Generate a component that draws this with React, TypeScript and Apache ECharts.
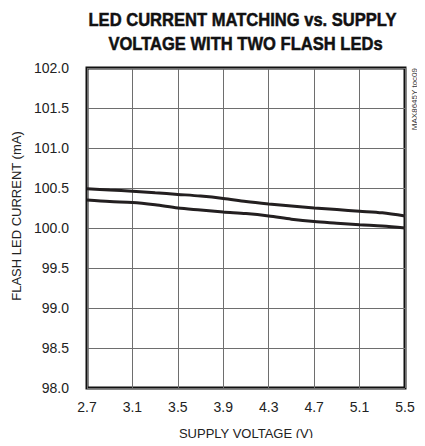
import React, { useEffect, useRef } from "react";
import * as echarts from "echarts";

const voltages = [2.7, 2.9, 3.1, 3.3, 3.5, 3.7, 3.9, 4.1, 4.3, 4.5, 4.7, 4.9, 5.1, 5.3, 5.5];
const led1 = [100.49, 100.475, 100.46, 100.44, 100.42, 100.4, 100.37, 100.33, 100.3, 100.275, 100.25, 100.23, 100.21, 100.19, 100.15];
const led2 = [100.35, 100.33, 100.32, 100.29, 100.25, 100.225, 100.2, 100.18, 100.15, 100.11, 100.08, 100.06, 100.04, 100.025, 100.0];
const xStart = 2.7;
const xEnd = 5.5;
const xStep = 0.4;
const yMin = 98;
const yMax = 102;
const yStep = 0.5;
const titleLines = ["LED CURRENT MATCHING vs. SUPPLY", "VOLTAGE WITH TWO FLASH LEDs"];
const xName = "SUPPLY VOLTAGE (V)";
const yName = "FLASH LED CURRENT (mA)";
const watermark = "MAX8645Y toc09";

const FONT = "'Liberation Sans', Arial, sans-serif";

export default function App() {
  const ref = useRef<HTMLDivElement>(null);
  useEffect(() => {
    if (!ref.current) return;
    const chart = echarts.init(ref.current, undefined, { renderer: "svg" });
    const toXY = (vals: number[]) => voltages.map((v, i) => [+(v - xStart).toFixed(4), vals[i]]);
    const titleStyle = {
      fontFamily: FONT,
      fontWeight: "bold",
      fontSize: 18,
      fill: "#111",
      stroke: "#111",
      lineWidth: 0.5,
      textAlign: "center",
      textVerticalAlign: "middle",
    };
    chart.setOption({
      animation: false,
      backgroundColor: "#ffffff",
      grid: {
        left: 87,
        right: 20,
        top: 68,
        bottom: 58,
        show: true,
        borderColor: "#111",
        borderWidth: 3,
        backgroundColor: "transparent",
      },
      xAxis: {
        type: "value",
        min: 0,
        max: +(xEnd - xStart).toFixed(4),
        interval: xStep,
        name: xName,
        nameLocation: "middle",
        nameGap: 39,
        nameTextStyle: { fontFamily: FONT, fontSize: 13, color: "#222" },
        axisLine: { show: false },
        axisTick: { show: false },
        axisLabel: {
          fontFamily: FONT,
          fontSize: 14,
          color: "#222",
          margin: 12,
          formatter: (v: number) => (v + xStart).toFixed(1),
        },
        splitLine: { show: true, lineStyle: { color: "#6e6e6e", width: 1 } },
      },
      yAxis: {
        type: "value",
        min: yMin,
        max: yMax,
        interval: yStep,
        name: yName,
        nameLocation: "middle",
        nameGap: 60,
        nameTextStyle: { fontFamily: FONT, fontSize: 13, color: "#222", padding: [0, 0, 0, 24] },
        axisLine: { show: false },
        axisTick: { show: false },
        axisLabel: {
          fontFamily: FONT,
          fontSize: 14,
          color: "#222",
          margin: 18,
          formatter: (v: number) => v.toFixed(1),
        },
        splitLine: { show: true, lineStyle: { color: "#6e6e6e", width: 1 } },
      },
      graphic: [
        {
          type: "text",
          x: 242.5,
          y: 19.5,
          scaleX: 0.92,
          style: { ...titleStyle, text: titleLines[0] },
        },
        {
          type: "text",
          x: 245.5,
          y: 43.5,
          scaleX: 0.92,
          style: { ...titleStyle, text: titleLines[1] },
        },
        {
          type: "text",
          x: 414,
          y: 68,
          rotation: Math.PI / 2,
          style: {
            text: watermark,
            fontFamily: FONT,
            fontSize: 8,
            fill: "#333",
            textAlign: "right",
            textVerticalAlign: "middle",
          },
        },
      ],
      series: [
        {
          type: "line",
          data: toXY(led1),
          smooth: 0.3,
          showSymbol: false,
          lineStyle: { color: "#231f20", width: 3 },
        },
        {
          type: "line",
          data: toXY(led2),
          smooth: 0.3,
          showSymbol: false,
          lineStyle: { color: "#231f20", width: 3 },
        },
      ],
    });
    return () => chart.dispose();
  }, []);
  return <div ref={ref} style={{ width: 425, height: 446, margin: -8 }} />;
}
